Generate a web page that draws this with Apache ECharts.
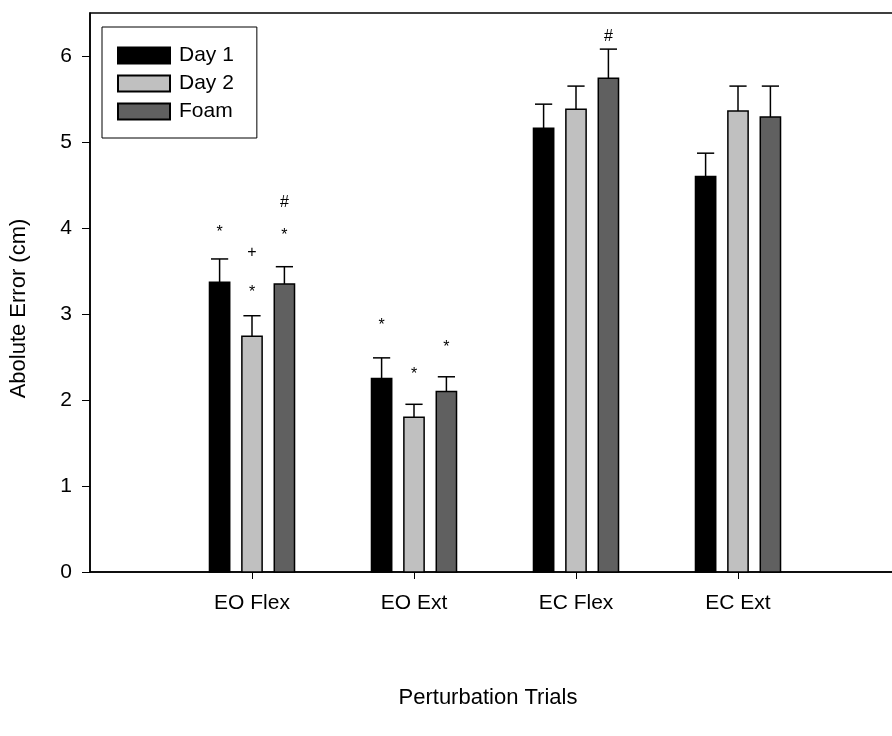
<!DOCTYPE html>
<html>
<head>
<meta charset="utf-8">
<script src="https://cdn.jsdelivr.net/npm/echarts@6/dist/echarts.min.js"></script>
<style>
  html, body { margin: 0; padding: 0; background: #fff; }
  #chart { width: 892px; height: 736px; }
</style>
</head>
<body>
<div id="chart"></div>
<script>
// categories and groups
const categories = ['EO Flex', 'EO Ext', 'EC Flex', 'EC Ext'];
const groups = ['Day 1', 'Day 2', 'Foam'];
const yTicks = [0, 1, 2, 3, 4, 5, 6];

// mean values per group (one value per category)
const day1 = [3.37, 2.25, 5.16, 4.60];
const day2 = [2.74, 1.80, 5.38, 5.36];
const foam = [3.35, 2.10, 5.74, 5.29];

// error bar upper ends
const day1Err = [3.64, 2.49, 5.44, 4.87];
const day2Err = [2.98, 1.95, 5.65, 5.65];
const foamErr = [3.55, 2.27, 6.08, 5.65];

// significance marks: [category, group, text, y value]
const marks = [
    [0, 0, '*', 3.95],
    [0, 1, '*', 3.25],
    [0, 1, '+', 3.71],
    [0, 2, '*', 3.91],
    [0, 2, '#', 4.29],
    [1, 0, '*', 2.87],
    [1, 1, '*', 2.29],
    [1, 2, '*', 2.61],
    [2, 2, '#', 6.23]
];

const colors = ['#000000', '#c0c0c0', '#606060'];
const offsets = [-0.2, 0, 0.2];
const barW = 0.125;
const font = 'Arial, "Liberation Sans", sans-serif';

const means = [day1, day2, foam];
const errs = [day1Err, day2Err, foamErr];

const chart = echarts.init(document.getElementById('chart'));

const series = groups.map((name, g) => ({
    name,
    type: 'custom',
    itemStyle: { color: colors[g], borderColor: '#000', borderWidth: 1 },
    data: categories.map((c, i) => [i + 1 + offsets[g], means[g][i], errs[g][i]]),
    renderItem: (params, api) => {
        const x = api.value(0);
        const base = api.coord([x, 0]);
        const top = api.coord([x, api.value(1)]);
        const errTop = api.coord([x, api.value(2)]);
        const w = api.size([barW, 0])[0];
        const cap = w * 0.85;
        return {
            type: 'group',
            children: [
                {
                    type: 'line',
                    shape: { x1: top[0], y1: top[1], x2: errTop[0], y2: errTop[1] },
                    style: { stroke: '#000', lineWidth: 1.5 }
                },
                {
                    type: 'line',
                    shape: { x1: errTop[0] - cap / 2, y1: errTop[1], x2: errTop[0] + cap / 2, y2: errTop[1] },
                    style: { stroke: '#000', lineWidth: 1.5 }
                },
                {
                    type: 'rect',
                    shape: { x: base[0] - w / 2, y: top[1], width: w, height: base[1] - top[1] },
                    style: { fill: colors[g], stroke: '#000', lineWidth: 1.5 }
                }
            ]
        };
    }
}));

series.push({
    name: 'marks',
    type: 'custom',
    silent: true,
    data: marks.map(m => [m[0] + 1 + offsets[m[1]], m[3], m[2]]),
    renderItem: (params, api) => {
        const p = api.coord([api.value(0), api.value(1)]);
        return {
            type: 'text',
            x: p[0],
            y: p[1],
            style: {
                text: marks[params.dataIndex][2],
                fill: '#000',
                font: '16px ' + font,
                align: 'center',
                verticalAlign: 'middle'
            }
        };
    }
});

const option = {
    animation: false,
    backgroundColor: '#fff',
    textStyle: { fontFamily: font },
    title: {
        text: 'Perturbation Trials',
        left: 483,
        top: 682,
        textAlign: 'center',
        textStyle: { fontSize: 22, fontWeight: 'normal', color: '#000', fontFamily: font }
    },
    legend: {
        data: groups,
        orient: 'vertical',
        left: 102,
        top: 27,
        itemWidth: 52,
        itemHeight: 16,
        itemGap: 7,
        padding: [18, 23, 16, 15],
        borderColor: '#000',
        borderWidth: 1,
        textStyle: { fontSize: 21, color: '#000', fontFamily: font, padding: [0, 0, 0, 4] },
        icon: 'rect',
        selectedMode: false
    },
    grid: {
        left: 90,
        top: 13,
        width: 810,
        height: 559,
        outerBoundsMode: 'none',
        show: true,
        borderColor: '#000',
        borderWidth: 1.5
    },
    xAxis: {
        type: 'value',
        min: 0,
        max: 5,
        interval: 1,
        splitLine: { show: false },
        axisLine: { show: true, lineStyle: { color: '#000', width: 1.5 } },
        axisTick: {
            show: true,
            length: 7,
            lineStyle: { color: '#000', width: 1 },
            customValues: [1, 2, 3, 4]
        },
        axisLabel: {
            customValues: [1, 2, 3, 4],
            formatter: v => categories[v - 1] || '',
            fontSize: 21,
            color: '#000',
            margin: 21
        }
    },
    yAxis: {
        type: 'value',
        min: 0,
        max: 6.5,
        interval: 1,
        name: 'Abolute Error (cm)',
        nameLocation: 'middle',
        nameGap: 60,
        nameTextStyle: { fontSize: 22, color: '#000', fontFamily: font, padding: [0, 0, 0, -32] },
        splitLine: { show: false },
        axisLine: { show: true, lineStyle: { color: '#000', width: 1.5 } },
        axisTick: { show: true, length: 8, lineStyle: { color: '#000', width: 1 }, customValues: yTicks },
        axisLabel: { customValues: yTicks, fontSize: 21, color: '#000', margin: 18 }
    },
    series
};

chart.setOption(option);
</script>
</body>
</html>
